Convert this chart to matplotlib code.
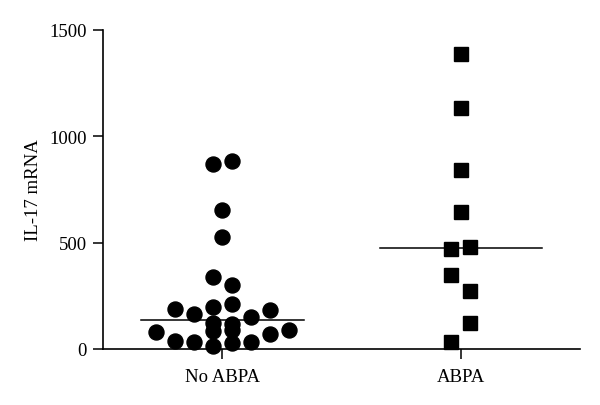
import numpy as np
import matplotlib
matplotlib.use("Agg")
import matplotlib.pyplot as plt

plt.rcParams['font.family'] = ['Liberation Serif', 'DejaVu Serif']

groups = ["No ABPA", "ABPA"]

# IL-17 mRNA values
no_abpa = [870, 885, 653, 525, 337, 302,
           188, 165, 199, 212, 152, 183,
           81, 120, 85, 118, 89, 70, 89,
           39, 31, 16, 27, 34]
abpa = [1386, 1131, 841, 645, 470, 478, 349, 271, 122, 34]

# horizontal slot of each point in the scatter (layout only)
no_abpa_slot = [-1, 1, 0, 0, -1, 1,
                -5, -3, -1, 1, 3, 5,
                -7, -1, -1, 1, 1, 5, 7,
                -5, -3, -1, 1, 3]
abpa_slot = [0, 0, 0, 0, -1, 1, -1, 1, 1, -1]
step = 0.04

fig = plt.figure(figsize=(6.0, 4.06), dpi=100)
ax = fig.add_axes([0.172, 0.138, 0.795, 0.786])

x0 = 0 + np.array(no_abpa_slot) * step
x1 = 1 + np.array(abpa_slot) * step
ax.plot(x0, no_abpa, 'o', color='black', markersize=10.8, clip_on=False)
ax.plot(x1, abpa, 's', color='black', markersize=10.3, clip_on=False)

# median lines
for i, vals in enumerate([no_abpa, abpa]):
    m = np.median(vals)
    ax.plot([i - 0.34, i + 0.34], [m, m], color='black', lw=1.1)

ax.set_xlim(-0.5, 1.5)
ax.set_ylim(0, 1500)
ax.set_xticks([0, 1])
ax.set_xticklabels(groups)
ax.set_yticks([0, 500, 1000, 1500])
ax.set_ylabel("IL-17 mRNA", fontsize=13.5, labelpad=5)

for side in ['top', 'right']:
    ax.spines[side].set_visible(False)
for side in ['left', 'bottom']:
    ax.spines[side].set_linewidth(1.2)
ax.tick_params(direction='out', length=7, width=1.1, labelsize=13.5, pad=5)
ax.tick_params(axis='x', pad=7)

fig.savefig("out.png", dpi=100)
